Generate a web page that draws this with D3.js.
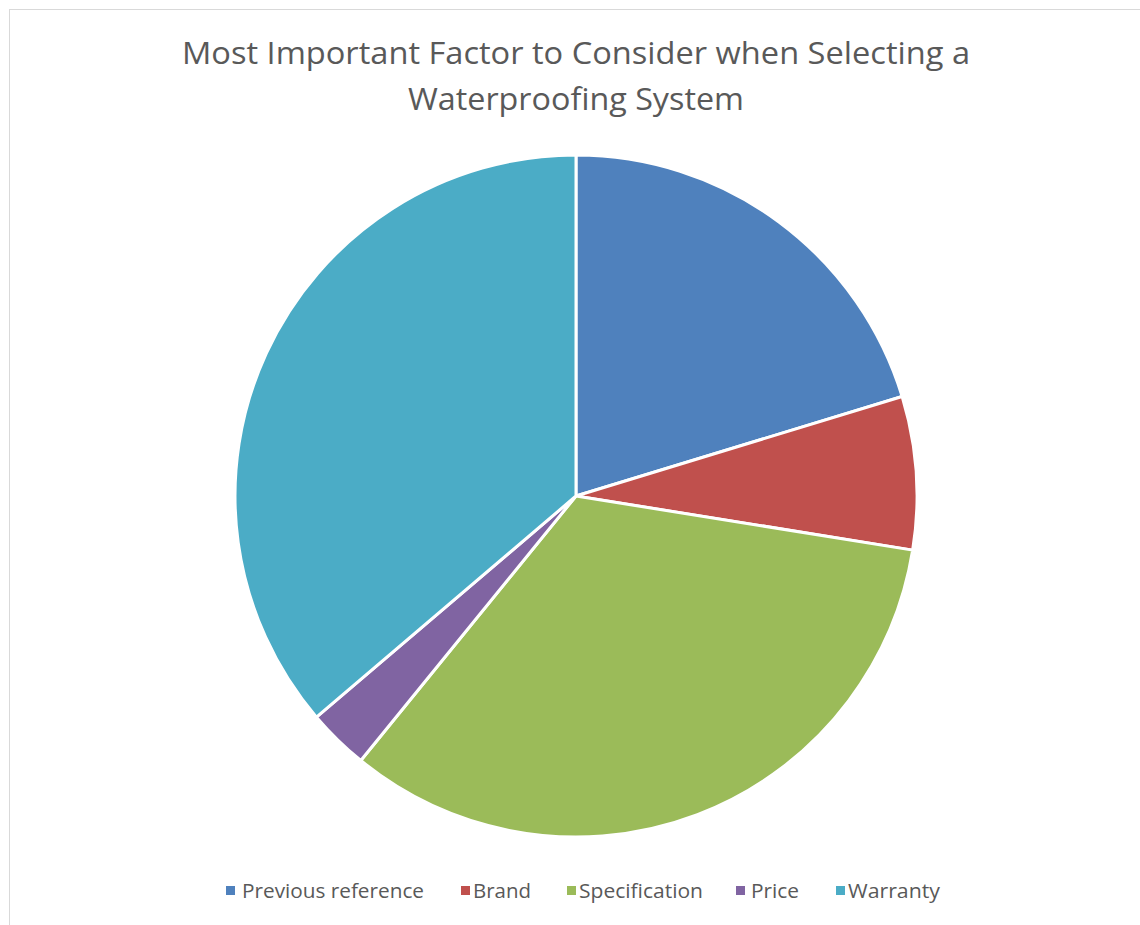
<!DOCTYPE html>
<html><head><meta charset="utf-8">
<script src="https://cdn.jsdelivr.net/npm/d3@7"></script>
<style>body{margin:0;background:#fff;}svg{display:block;font-family:"Open Sans",sans-serif;}</style>
</head><body>
<svg id="c" width="1140" height="925"></svg>
<script>
const categories = ["Previous reference","Brand","Specification","Price","Warranty"];
const values = [14,5,23,2,25];
const colors = ["#4F81BD","#C0504D","#9BBB59","#8064A2","#4BACC6"];
const titleLines = ["Most Important Factor to Consider when Selecting a","Waterproofing System"];

const svg = d3.select("#c");
svg.append("rect").attr("x",9.5).attr("y",9.5).attr("width",1140).attr("height",930)
  .attr("fill","#fff").attr("stroke","#d9d9d9").attr("stroke-width",1);

const titleW = [788, 336];
svg.selectAll("text.title").data(titleLines).join("text").attr("class","title")
  .attr("x",576).attr("y",(d,i)=>64+i*46).attr("text-anchor","middle")
  .attr("font-size",31).attr("fill","#595959")
  .attr("textLength",(d,i)=>titleW[i]).attr("lengthAdjust","spacingAndGlyphs")
  .text(d=>d);

const cx=576, cy=496, r=341;
const pie = d3.pie().sort(null).value(d=>d)(values);
const arc = d3.arc().innerRadius(0).outerRadius(r);
const g = svg.append("g").attr("transform",`translate(${cx},${cy})`);
g.selectAll("path").data(pie).join("path").attr("d",arc)
  .attr("fill",(d,i)=>colors[i]).attr("stroke","#fff").attr("stroke-width",3).attr("stroke-linejoin","round");

const markerX=[226,461,567,736,836], textX=[242,473,579,751,848];
const textW=[182,58,124,48,92];
const lg = svg.append("g");
lg.selectAll("rect").data(categories).join("rect")
  .attr("x",(d,i)=>markerX[i]).attr("y",886).attr("width",9).attr("height",9)
  .attr("fill",(d,i)=>colors[i]);
lg.selectAll("text").data(categories).join("text")
  .attr("x",(d,i)=>textX[i]).attr("y",898).attr("font-size",20).attr("fill","#595959")
  .attr("textLength",(d,i)=>textW[i]).attr("lengthAdjust","spacingAndGlyphs")
  .text(d=>d);
</script>
</body></html>
